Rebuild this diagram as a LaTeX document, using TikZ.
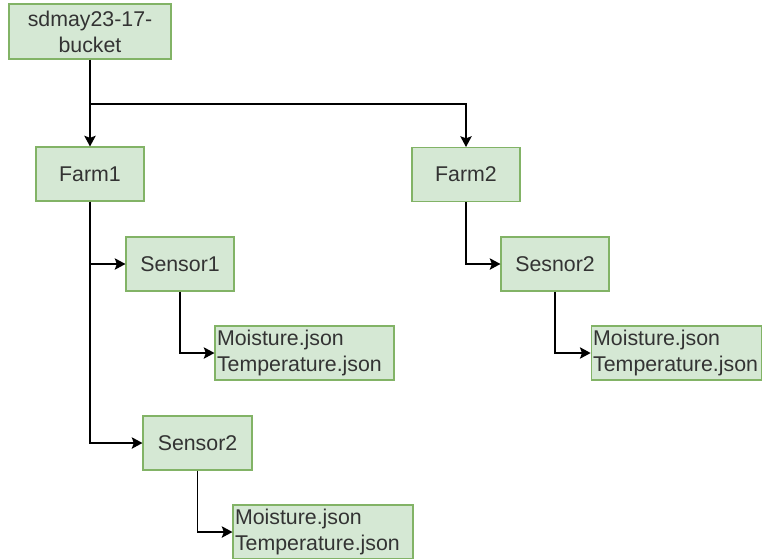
\documentclass[tikz,border=0pt]{standalone}
\usepackage{fontspec}
\setmainfont{Liberation Sans}
\usetikzlibrary{arrows.meta}
\definecolor{boxfill}{HTML}{D5E8D4}
\definecolor{boxline}{HTML}{82B366}
\definecolor{txt}{HTML}{333333}
\begin{document}
\begin{tikzpicture}[x=0.75pt,y=-0.75pt,
  box/.style={draw=boxline,fill=boxfill,line width=0.8pt,text=txt,inner sep=1pt,
    font=\fontsize{16}{19.5}\selectfont,minimum height=40.5pt},
  sbox/.style={box,minimum width=81pt,align=center},
  jbox/.style={box,align=left,inner xsep=1.5pt},
  arr/.style={-{Stealth[length=8pt,width=8.5pt,inset=1.5pt]},line width=1.25pt,black}]
\useasboundingbox[fill=white] (0,0) rectangle (762,558);
\node[sbox,minimum width=121.5pt,minimum height=41.25pt] (bucket) at (90,31.5) {sdmay23-17-\\bucket};
\node[sbox] (farm1) at (90,174) {Farm1};
\node[sbox] (farm2) at (466,174.5) {Farm2};
\node[sbox] (sensor1) at (180,264) {Sensor1};
\node[sbox] (sesnor2) at (555,264) {Sesnor2};
\node[sbox,minimum width=81.75pt] (sensor2) at (197.5,443) {Sensor2};
\node[jbox,text width=131.25pt] (json1) at (304.5,353) {Moisture.json\\Temperature.json};
\node[jbox,text width=125pt] (json2) at (676.5,353) {Moisture.json\\Temperature.json};
\node[jbox,text width=132pt] (json3) at (323,532) {Moisture.json\\Temperature.json};
\coordinate (split) at (90,104);
\draw[arr] (bucket.south) -- (farm1.north);
\draw[arr] (split) -| (farm2.north);
\draw[arr] (farm1.south) |- (sensor1.west);
\draw[arr] (farm1.south) |- (sensor2.west);
\draw[arr] (sensor1.south) |- (json1.west);
\draw[arr] (sensor2.south) |- (json3.west);
\draw[arr] (farm2.south) |- (sesnor2.west);
\draw[arr] (sesnor2.south) |- (json2.west);
\end{tikzpicture}
\end{document}
